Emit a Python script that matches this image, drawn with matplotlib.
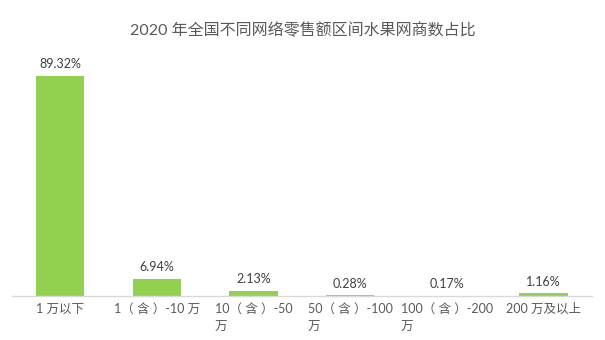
import matplotlib
matplotlib.use("Agg")
import matplotlib.pyplot as plt

plt.rcParams['font.family'] = ['Lato', 'Noto Sans CJK SC', 'DejaVu Sans']

categories = ["1 万以下", "1（ 含 ）-10 万", "10（ 含 ）-50\n万", "50（ 含 ）-100\n万", "100（ 含 ）-200\n万", "200 万及以上"]
values = [89.32, 6.94, 2.13, 0.28, 0.17, 1.16]
labels = ["89.32%", "6.94%", "2.13%", "0.28%", "0.17%", "1.16%"]
title = "2020 年全国不同网络零售额区间水果网商数占比"

fig = plt.figure(figsize=(6.05, 3.4), dpi=100)
ax = fig.add_axes([0.0198, 0.1294, 0.9587, 0.7246])
x = list(range(len(categories)))
bars = ax.bar(x, values, width=0.5, color="#92d050")
ax.set_xlim(-0.5, len(categories) - 0.5)
ax.set_ylim(0, 100)
for xi, v, lab in zip(x, values, labels):
    ax.annotate(lab, (xi, v), xytext=(0, 4), textcoords="offset points",
                ha="center", va="bottom", fontsize=9, color="#404040")
ax.set_xticks(x)
ax.set_xticklabels(categories, fontsize=9, color="#595959", multialignment="left", linespacing=1.55)
ax.tick_params(axis="x", length=0, pad=5)
ax.set_yticks([])
for s in ["top", "right", "left"]:
    ax.spines[s].set_visible(False)
ax.spines["bottom"].set_color("#d9d9d9")
ax.spines["bottom"].set_linewidth(1)
fig.text(0.5, 0.912, title, ha="center", va="center", fontsize=11.5, color="#595959")
fig.savefig("out.png", dpi=100)
